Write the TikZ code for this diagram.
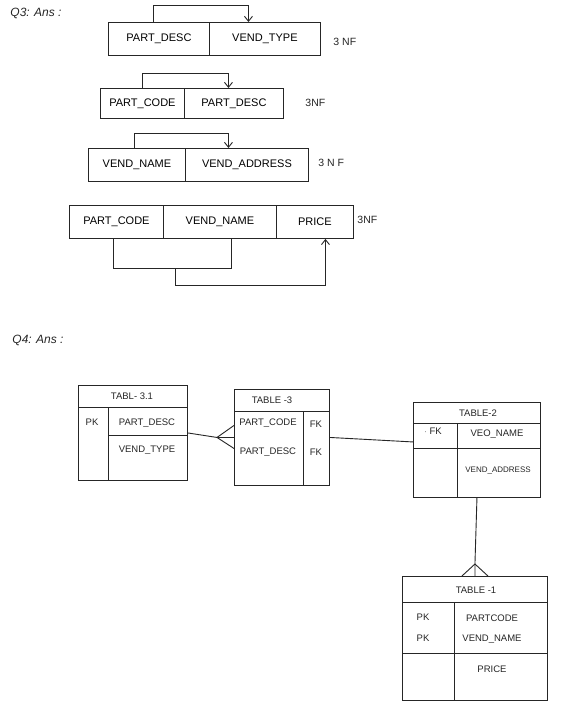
\documentclass[tikz,border=0pt]{standalone}
\usepackage{fontspec}
\setmainfont{Liberation Sans}
\usetikzlibrary{arrows.meta,calc}
\begin{document}
\begin{tikzpicture}[x=1pt,y=-1pt,line width=0.9pt,
  every path/.style={draw=black!85},
  cell/.style={draw=black!85,rectangle,inner sep=0pt,anchor=north west,font=\fontsize{11}{13}\selectfont},
  tbl/.style={draw=black!85,rectangle,inner sep=0pt,anchor=north west},
  txt/.style={inner sep=0pt,font=\fontsize{9.5}{11}\selectfont,text=black!85},
  small/.style={inner sep=0pt,font=\fontsize{8}{10}\selectfont,text=black!85},
  lbl/.style={inner sep=0pt,anchor=west,font=\fontsize{10.5}{12}\selectfont,text=black!85},
  head/.style={inner sep=0pt,anchor=west,font=\fontsize{12}{14}\selectfont\itshape,text=black!85},
  arr/.style={-{Straight Barb[length=5pt,width=8pt]}}]
\useasboundingbox[fill=white,draw=none] (0,0) rectangle (560,715);

% ---------- Q3 ----------
\node[head] (q3) at (10,13) {Q3: Ans :};

\node[cell,minimum width=101pt,minimum height=33pt] (a1) at (108,22) {PART\_DESC};
\node[cell,minimum width=111pt,minimum height=33pt] (a2) at (209,22) {VEND\_TYPE};
\draw[arr] ([xshift=-5.5pt]a1.north) -- ++(0,-17) -| ([xshift=-16.5pt]a2.north);
\node[lbl] (n1) at (333,42) {3 NF};

\node[cell,minimum width=84pt,minimum height=30pt] (b1) at (100,88) {PART\_CODE};
\node[cell,minimum width=99pt,minimum height=30pt] (b2) at (184,88) {PART\_DESC};
\draw[arr] (b1.north) -- ++(0,-15) -| ([xshift=-5.5pt]b2.north);
\node[lbl] (n2) at (305,103) {3NF};

\node[cell,minimum width=97pt,minimum height=33pt] (c1) at (88,148) {VEND\_NAME};
\node[cell,minimum width=123pt,minimum height=33pt] (c2) at (185,148) {VEND\_ADDRESS};
\draw[arr] ([xshift=-2.5pt]c1.north) -- ++(0,-15) -| ([xshift=-18.5pt]c2.north);
\node[lbl] (n3) at (318,163) {3 N F};

\node[cell,minimum width=94pt,minimum height=33pt] (d1) at (69,205) {PART\_CODE};
\node[cell,minimum width=113pt,minimum height=33pt] (d2) at (163,205) {VEND\_NAME};
\node[cell,minimum width=77pt,minimum height=33pt] (d3) at (276,205) {PRICE};
\node[lbl] (n4) at (357,220) {3NF};
\draw ([xshift=-3pt]d1.south) -- ++(0,30) -| ([xshift=11.5pt]d2.south);
\coordinate (j) at (175,268);
\draw[arr] (j) -- ++(0,17) -| ([xshift=10.5pt]d3.south);

% ---------- Q4 ----------
\node[head] (q4) at (12,340) {Q4: Ans :};

% TABL-3.1
\node[tbl,minimum width=109pt,minimum height=95pt] (t31) at (78,385) {};
\draw ([yshift=-22pt]t31.north west) -- ([yshift=-22pt]t31.north east);
\draw ([shift={(30pt,-22pt)}]t31.north west) -- ([xshift=30pt]t31.south west);
\draw ([shift={(30pt,-50pt)}]t31.north west) -- ([yshift=-50pt]t31.north east);
\node[txt] (t31h) at (132,396) {TABL- 3.1};
\node[txt] (t31k) at (92,422) {PK};
\node[txt] (t31a) at (147,423) {PART\_DESC};
\node[txt] (t31b) at (147,450) {VEND\_TYPE};

% TABLE-3
\node[tbl,minimum width=95pt,minimum height=96pt] (t3) at (234,389) {};
\draw ([yshift=-22pt]t3.north west) -- ([yshift=-22pt]t3.north east);
\draw ([shift={(69pt,-22pt)}]t3.north west) -- ([xshift=69pt]t3.south west);
\node[txt] (t3h) at (272,400) {TABLE -3};
\node[txt] (t3a) at (268,423) {PART\_CODE};
\node[txt] (t3b) at (268,452) {PART\_DESC};
\node[txt] (t3k1) at (316,424) {FK};
\node[txt] (t3k2) at (316,452) {FK};

% crow's foot t31 -- t3
\coordinate (cf1) at ($(t3.west)+(-17,0)$);
\draw (t31.east) -- (cf1) -- (t3.west);
\draw ([yshift=12pt]t3.west) -- (cf1) -- ([yshift=-11pt]t3.west);

% TABLE-2
\node[tbl,minimum width=127pt,minimum height=95pt] (t2) at (413,402) {};
\draw ([yshift=-21pt]t2.north west) -- ([yshift=-21pt]t2.north east);
\draw ([shift={(44pt,-21pt)}]t2.north west) -- ([xshift=44pt]t2.south west);
\draw ([yshift=-46pt]t2.north west) -- ([yshift=-46pt]t2.north east);
\node[txt] (t2h) at (478,413) {TABLE-2};
\node[txt] (t2k) at (433,431) {$\cdot$ FK};
\node[txt] (t2a) at (497,434) {VEO\_NAME};
\node[small] (t2b) at (498,470) {VEND\_ADDRESS};

\draw (t3.east) -- ([yshift=8pt]t2.west);

% TABLE-1
\node[tbl,minimum width=145pt,minimum height=124pt] (t1) at (402,576) {};
\draw ([yshift=-26pt]t1.north west) -- ([yshift=-26pt]t1.north east);
\draw ([shift={(52pt,-26pt)}]t1.north west) -- ([xshift=52pt]t1.south west);
\draw ([yshift=-77pt]t1.north west) -- ([yshift=-77pt]t1.north east);
\node[txt] (t1h) at (476,590) {TABLE -1};
\node[txt] (t1k1) at (423,617) {PK};
\node[txt] (t1k2) at (423,638) {PK};
\node[txt] (t1a) at (492,618) {PARTCODE};
\node[txt] (t1b) at (492,639) {VEND\_NAME};
\node[txt] (t1c) at (492,669) {PRICE};

% crow's foot t2 -- t1
\coordinate (cf2) at ($(t1.north)+(0,-12)$);
\draw (t2.south) -- (cf2) -- (t1.north);
\draw ([xshift=-13pt]t1.north) -- (cf2) -- ([xshift=13pt]t1.north);
\end{tikzpicture}
\end{document}
